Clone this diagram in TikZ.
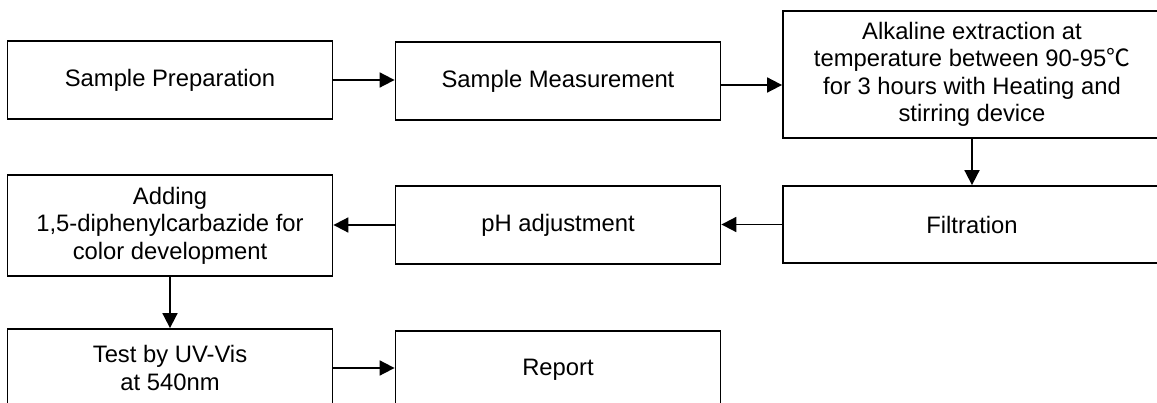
\documentclass[tikz,border=0pt]{standalone}
\usepackage{fontspec}
\setmainfont{Liberation Sans}
\newfontfamily\cjkfont{Noto Sans CJK SC}
\usetikzlibrary{arrows.meta}
\begin{document}
\begin{tikzpicture}[x=1pt,y=-1pt,
  stepbox/.style={draw=black,line width=1.8pt,rectangle,inner sep=0pt,
    align=center,font=\fontsize{23.8}{27.5}\selectfont},
  flow/.style={line width=1.8pt,-{Triangle[length=15pt,width=15pt]}}]
\useasboundingbox (0,0) rectangle (1157,403);
\node[stepbox,minimum width=325pt,minimum height=78pt] (prep) at (170,80) {Sample Preparation};
\node[stepbox,minimum width=325pt,minimum height=78pt] (meas) at (558,81) {Sample Measurement};
\node[stepbox,minimum width=378pt,minimum height=127pt] (alk) at (972,74.5)
  {Alkaline extraction at\\temperature between 90-95{\cjkfont ℃}\\for 3 hours with Heating and\\stirring device};
\node[stepbox,minimum width=378pt,minimum height=77pt] (filt) at (972,224.5) {Filtration};
\node[stepbox,minimum width=325pt,minimum height=78pt] (ph) at (558,225) {pH adjustment};
\node[stepbox,minimum width=325pt,minimum height=101pt] (add) at (170,225.5)
  {Adding\\1,5-diphenylcarbazide for\\color development};
\node[stepbox,minimum width=325pt,minimum height=78pt] (test) at (170,368) {Test by UV-Vis\\at 540nm};
\node[stepbox,minimum width=325pt,minimum height=78pt] (report) at (558,370) {Report};
\draw[flow] (prep.east) -- (prep.east -| meas.west);
\draw[flow] ([yshift=-4pt]meas.east) -- ([yshift=-4pt]meas.east -| alk.west);
\draw[flow] (alk.south) -- (filt.north);
\draw[flow] (filt.west) -- (filt.west -| ph.east);
\draw[flow] (ph.west) -- (ph.west -| add.east);
\draw[flow] (add.south) -- (test.north);
\draw[flow] (test.east) -- (test.east -| report.west);
\end{tikzpicture}
\end{document}
